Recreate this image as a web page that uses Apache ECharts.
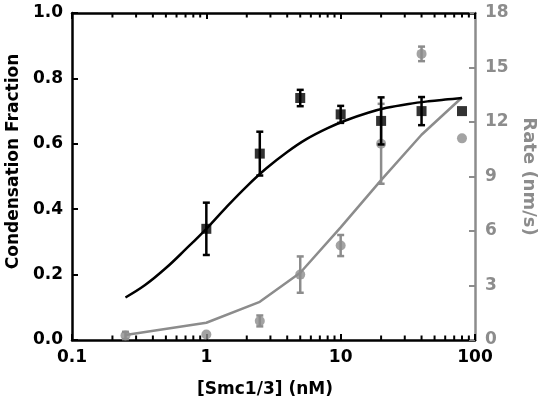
<!DOCTYPE html>
<html>
<head>
<meta charset="utf-8">
<script src="https://cdn.jsdelivr.net/npm/echarts@6/dist/echarts.min.js"></script>
<style>
html,body{margin:0;padding:0;background:#fff;}
#chart{width:540px;height:403px;}
</style>
</head>
<body>
<div id="chart"></div>
<script>
// ---- data ----
const concX = [0.25, 1, 2.5, 5, 10, 20, 40, 80];
const fracY = [null, 0.34, 0.57, 0.74, 0.69, 0.67, 0.70, 0.70];
const fracErr = [null, 0.08, 0.067, 0.025, 0.026, 0.072, 0.043, 0];
const rateY = [0.25, 0.3, 1.05, 3.6, 5.2, 10.8, 15.75, 11.1];
const rateErr = [0.2, 0, 0.3, 1.0, 0.58, 2.2, 0.4, 0];
const fracCurveX = [0.25, 0.35, 0.5, 0.7, 1, 1.4, 2, 2.8, 4, 5.6, 8, 11, 16, 22, 32, 45, 63, 80];
const fracCurveY = [0.13, 0.168, 0.22, 0.277, 0.34, 0.405, 0.47, 0.525, 0.575, 0.615, 0.648, 0.672, 0.695, 0.71, 0.722, 0.73, 0.736, 0.74];
const rateCurveX = [0.25, 1, 2.5, 5, 10, 20, 40, 80];
const rateCurveY = [0.28, 0.95, 2.1, 3.7, 6.2, 8.8, 11.3, 13.35];
const xTickLabels = ['0.1', '1', '10', '100'];
const minorTicks = [0.2,0.3,0.4,0.5,0.6,0.7,0.8,0.9,2,3,4,5,6,7,8,9,20,30,40,50,60,70,80,90];
const leftTicks = ['0.0','0.2','0.4','0.6','0.8','1.0'];
const rightTicks = ['0','3','6','9','12','15','18'];

const BLACK = '#000000';
const GRAY = '#8c8c8c';
const FONT = 'DejaVu Sans';

function zip(a, b, c) {
  const out = [];
  for (let i = 0; i < a.length; i++) {
    if (b[i] === null || b[i] === undefined) continue;
    out.push(c ? [a[i], b[i], c[i]] : [a[i], b[i]]);
  }
  return out;
}

function errRenderer(color) {
  return function (params, api) {
    const x = api.value(0), y = api.value(1), e = api.value(2);
    if (!e) return null;
    const t = api.coord([x, y + e]);
    const b = api.coord([x, y - e]);
    const hw = 3.5;
    const st = { stroke: color, lineWidth: 2.5 };
    return {
      type: 'group',
      children: [
        { type: 'line', shape: { x1: t[0], y1: t[1], x2: b[0], y2: b[1] }, style: st },
        { type: 'line', shape: { x1: t[0] - hw, y1: t[1], x2: t[0] + hw, y2: t[1] }, style: st },
        { type: 'line', shape: { x1: b[0] - hw, y1: b[1], x2: b[0] + hw, y2: b[1] }, style: st }
      ]
    };
  };
}

const chart = echarts.init(document.getElementById('chart'), null, { renderer: 'canvas' });

const labelStyle = { fontFamily: FONT, fontWeight: 'bold', fontSize: 17 };

const option = {
  animation: false,
  backgroundColor: '#fff',
  grid: { left: 72, right: 65, top: 13, bottom: 63, containLabel: false, outerBoundsMode: 'none' },
  xAxis: [
    {
      type: 'log', logBase: 10, min: 0.1, max: 100, position: 'bottom',
      name: '[Smc1/3] (nM)', nameLocation: 'middle', nameGap: 41,
      nameTextStyle: Object.assign({ color: BLACK, padding: [0, 17, 0, 0] }, labelStyle),
      axisLine: { show: true, onZero: false, lineStyle: { color: BLACK, width: 2.5 } },
      axisTick: { show: true, inside: true, length: 6, lineStyle: { color: BLACK, width: 2 } },
      axisLabel: Object.assign({
        color: BLACK, margin: 9,
        formatter: v => xTickLabels[Math.round(Math.log10(v)) + 1]
      }, labelStyle),
      splitLine: { show: false }, minorTick: { show: false }
    },
    {
      type: 'log', logBase: 10, min: 0.1, max: 100, position: 'top',
      axisLine: { show: true, onZero: false, lineStyle: { color: BLACK, width: 2.5 } },
      axisTick: { show: true, inside: true, length: 6, lineStyle: { color: BLACK, width: 2 } },
      axisLabel: { show: false }, splitLine: { show: false }
    }
  ],
  yAxis: [
    {
      type: 'value', min: 0, max: 1, interval: 0.2, position: 'left',
      name: 'Condensation Fraction', nameLocation: 'middle', nameGap: 50, nameRotate: 90,
      nameTextStyle: Object.assign({ color: BLACK, padding: [0, 0, 0, 30] }, labelStyle),
      axisLine: { show: true, onZero: false, lineStyle: { color: BLACK, width: 2.5 } },
      axisTick: { show: true, inside: true, length: 6, lineStyle: { color: BLACK, width: 2 } },
      axisLabel: Object.assign({ color: BLACK, margin: 9, formatter: (v, i) => leftTicks[i] }, labelStyle),
      splitLine: { show: false }
    },
    {
      type: 'value', min: 0, max: 18, interval: 3, position: 'right',
      name: 'Rate (nm/s)', nameLocation: 'middle', nameGap: 42, nameRotate: -90,
      nameTextStyle: { color: GRAY, fontFamily: FONT, fontWeight: 'bold', fontSize: 18 },
      axisLine: { show: true, onZero: false, lineStyle: { color: GRAY, width: 2.5 } },
      axisTick: { show: true, inside: true, length: 6, lineStyle: { color: GRAY, width: 2 } },
      axisLabel: Object.assign({ color: GRAY, margin: 10, formatter: (v, i) => rightTicks[i] }, labelStyle),
      splitLine: { show: false }
    }
  ],
  series: [
    {
      type: 'custom', xAxisIndex: 0, yAxisIndex: 0, silent: true, clip: false,
      data: minorTicks.map(v => [v]),
      renderItem: function (params, api) {
        const x = api.value(0);
        const b = api.coord([x, 0]);
        const t = api.coord([x, 1]);
        const st = { stroke: BLACK, lineWidth: 2 };
        return {
          type: 'group', children: [
            { type: 'line', shape: { x1: b[0], y1: b[1], x2: b[0], y2: b[1] - 4.5 }, style: st },
            { type: 'line', shape: { x1: t[0], y1: t[1], x2: t[0], y2: t[1] + 4.5 }, style: st }
          ]
        };
      },
      z: 5
    },
    {
      name: 'rate fit', type: 'line', xAxisIndex: 0, yAxisIndex: 1,
      data: zip(rateCurveX, rateCurveY), showSymbol: false, symbol: 'none',
      lineStyle: { color: GRAY, width: 2.5 }, z: 2
    },
    {
      name: 'rate err', type: 'custom', xAxisIndex: 0, yAxisIndex: 1, clip: false,
      data: zip(concX, rateY, rateErr), renderItem: errRenderer(GRAY), z: 3
    },
    {
      name: 'rate', type: 'scatter', xAxisIndex: 0, yAxisIndex: 1,
      data: zip(concX, rateY), symbol: 'circle', symbolSize: 10,
      itemStyle: { color: GRAY }, z: 3
    },
    {
      name: 'frac fit', type: 'line', xAxisIndex: 0, yAxisIndex: 0,
      data: zip(fracCurveX, fracCurveY), showSymbol: false, symbol: 'none',
      smooth: 0.4,
      lineStyle: { color: BLACK, width: 2.5 }, z: 4
    },
    {
      name: 'frac err', type: 'custom', xAxisIndex: 0, yAxisIndex: 0, clip: false,
      data: zip(concX, fracY, fracErr), renderItem: errRenderer(BLACK), z: 4
    },
    {
      name: 'frac', type: 'scatter', xAxisIndex: 0, yAxisIndex: 0,
      data: zip(concX, fracY), symbol: 'rect', symbolSize: 10,
      itemStyle: { color: BLACK }, z: 4
    }
  ]
};
chart.setOption(option);
</script>
</body>
</html>
